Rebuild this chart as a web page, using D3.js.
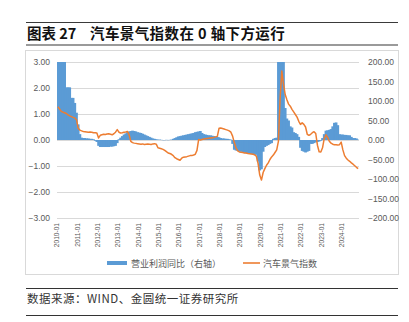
<!DOCTYPE html>
<html>
<head>
<meta charset="utf-8">
<script src="https://cdn.jsdelivr.net/npm/d3@7/dist/d3.min.js"></script>
<style>
  html, body { margin: 0; padding: 0; background: #fff; }
  svg { display: block; }
</style>
</head>
<body>
<svg id="chart" width="409" height="322"></svg>
<script>
// Monthly series, 2010-01 .. 2024-10
const years = d3.range(2010, 2025);
const lastYearMonths = 10;

// Operating profit YoY, % (right axis, bars)
const profitYoY = [
  260, 260, 260, 260, 260, 135, 135, 135, 108, 108, 95, 70,     // 2010
  40, 15, 6, 5, 5, 4, 4, 3, 3, 2, -2, -5,                       // 2011
  -15, -18, -18, -18, -18, -18, -18, -17, -17, -16, -15, -8,    // 2012
  2, 6, 10, 14, 17, 20, 22, 23, 24, 23, 22, 20,                 // 2013
  19, 18, 16, 14, 12, 10, 8, 6, 4, 3, 2, 1,                     // 2014
  1, 0.5, -0.5, -0.5, 0.5, -0.5, 0.5, 1, 3, 5, 7, 9,            // 2015
  10, 11, 12, 13, 14, 15, 16, 17, 18, 20, 21, 22,               // 2016
  23, 18, 15, 14, 13, 12, 12, 11, 10, 9, 8, 7,                  // 2017
  5, 4, 4, 3, 3, 2, 1, -10, -25, -27, -28, -30,                 // 2018
  -30, -32, -33, -34, -35, -35, -36, -36, -37, -38, -55, -78,   // 2019
  -75, -30, -18, -15, -13, -10, -8, 3, 5, 6, 260, 260,          // 2020
  260, 230, 82, 55, 50, 35, 32, 20, 18, 15, 8, -20,             // 2021
  -28, -30, -32, -30, -28, -10, -10, -8, -6, -5, -4, -2,        // 2022
  5, 15, 24, 25, 26, 28, 35, 44, 45, 38, 15, 14,                // 2023
  14, 13, 13, 12, 12, 8, 5, 5, 4, 1                             // 2024
];

// Auto industry climate index (left axis, line)
const autoIndex = [
  1.28, 1.20, 1.10, 1.07, 1.05, 1.02, 0.97, 0.93, 0.90, 0.87, 0.85, 0.78,
  0.45, 0.38, 0.35, 0.33, 0.32, 0.31, 0.30, 0.31, 0.30, 0.28, 0.28, 0.27,
  0.08, 0.18, 0.20, 0.22, 0.21, 0.23, 0.24, 0.22, 0.20, 0.24, 0.30, 0.40,
  0.30, 0.27, 0.28, 0.30, 0.31, 0.33, 0.20, -0.05, -0.10, -0.12, -0.13, -0.14,
  -0.15, -0.16, -0.15, -0.17, -0.16, -0.15, -0.16, -0.17, -0.15, -0.14, -0.16, -0.30,
  -0.32, -0.34, -0.36, -0.40, -0.45, -0.50, -0.52, -0.55, -0.60, -0.68, -0.72, -0.75,
  -0.78, -0.70, -0.66, -0.65, -0.64, -0.62, -0.60, -0.60, -0.58, -0.55, -0.40, 0.02,
  0.00, 0.02, 0.04, 0.05, 0.06, 0.07, 0.08, 0.09, 0.10, 0.12, 0.14, 0.45,
  0.46, 0.44, 0.42, 0.40, 0.38, 0.35, 0.30, 0.15, -0.10, -0.30, -0.42, -0.46,
  -0.47, -0.48, -0.50, -0.50, -0.52, -0.53, -0.54, -0.55, -0.57, -0.62, -0.90, -1.35,
  -1.54, -1.25, -1.10, -0.97, -0.88, -0.75, -0.65, -0.58, -0.48, -0.38, -0.05, 1.60,
  2.65, 2.15, 1.75, 1.55, 1.38, 1.30, 1.18, 1.08, 0.98, 0.88, 0.72, 0.60,
  0.66, 0.60, 0.50, 0.22, 0.18, 0.22, 0.28, 0.32, 0.25, -0.20, -0.45, -0.46,
  -0.30, 0.05, 0.20, 0.10, -0.05, -0.12, -0.16, -0.18, -0.18, -0.19, -0.18, -0.08,
  -0.38, -0.60, -0.70, -0.77, -0.82, -0.88, -0.93, -0.99, -1.05, -1.10
];

const tickLabels = years.map(y => y + "-01");
const leftTicks = [3, 2, 1, 0, -1, -2, -3];
const rightTicks = [200, 150, 100, 50, 0, -50, -100, -150, -200];
const seriesNames = ["营业利润同比（右轴）", "汽车景气指数"];
const titleText = ["图表 27", "汽车景气指数在 0 轴下方运行"];
const sourceText = "数据来源：WIND、金圆统一证券研究所";

// month categories
const months = [];
years.forEach(y => {
  const n = y === 2024 ? lastYearMonths : 12;
  for (let m = 1; m <= n; m++) months.push(y + "-" + String(m).padStart(2, "0"));
});

const svg = d3.select("#chart");
const plot = { left: 57, right: 359, top: 62, bottom: 218 };

const x = d3.scaleBand().domain(months).range([plot.left, plot.right]).padding(0);
const yL = d3.scaleLinear().domain([-3, 3]).range([plot.bottom, plot.top]);
const yR = d3.scaleLinear().domain([-200, 200]).range([plot.bottom, plot.top]);

const axisFont = "'Liberation Sans', Arial, sans-serif";
const cjkFont = "'Noto Sans CJK SC', sans-serif";

// header rules and title
svg.append("line").attr("x1", 26).attr("x2", 398).attr("y1", 22.5).attr("y2", 22.5)
  .attr("stroke", "#3a3a3a").attr("stroke-width", 1);
svg.append("line").attr("x1", 26).attr("x2", 398).attr("y1", 45).attr("y2", 45)
  .attr("stroke", "#9a9a9a").attr("stroke-width", 2);
svg.append("text").attr("x", 27).attr("y", 39)
  .attr("font-family", cjkFont).attr("font-weight", 700).attr("font-size", 14.5)
  .attr("fill", "#111").text(titleText[0]);
svg.append("text").attr("x", 90).attr("y", 39)
  .attr("font-family", cjkFont).attr("font-weight", 700).attr("font-size", 14.5)
  .attr("fill", "#111").attr("letter-spacing", 0.4).text(titleText[1]);

// chart frame
svg.append("rect").attr("x", 25.5).attr("y", 50.5).attr("width", 373).attr("height", 224)
  .attr("fill", "#fff").attr("stroke", "#d9d9d9").attr("stroke-width", 1);

// gridlines
svg.append("g").selectAll("line").data(leftTicks).join("line")
  .attr("x1", plot.left).attr("x2", plot.right)
  .attr("y1", d => Math.round(yL(d)) + 0.5).attr("y2", d => Math.round(yL(d)) + 0.5)
  .attr("stroke", "#d9d9d9").attr("stroke-width", 1);

// left axis
const gL = svg.append("g").attr("transform", `translate(${plot.left - 7},0)`)
  .call(d3.axisLeft(yL).tickValues(leftTicks).tickFormat(d3.format(".2f")).tickSize(0));
gL.select(".domain").remove();
gL.selectAll("text").attr("font-family", axisFont).attr("font-size", 8.5).attr("fill", "#595959")
  .attr("x", 0);

// right axis
const gR = svg.append("g").attr("transform", `translate(${plot.right + 9},0)`)
  .call(d3.axisRight(yR).tickValues(rightTicks).tickFormat(d3.format(".2f")).tickSize(0));
gR.select(".domain").remove();
gR.selectAll("text").attr("font-family", axisFont).attr("font-size", 8.5).attr("fill", "#595959")
  .attr("x", 0);

// clip for bars running past the axis range
svg.append("clipPath").attr("id", "plotClip").append("rect")
  .attr("x", plot.left).attr("y", plot.top).attr("width", plot.right - plot.left)
  .attr("height", plot.bottom - plot.top);

// bars: each month overlaps the next by a pixel so the columns read as one solid block
svg.append("g").attr("clip-path", "url(#plotClip)")
  .selectAll("rect")
  .data(profitYoY).join("rect")
  .attr("x", (d, i) => x(months[i]) - 0.5)
  .attr("width", x.bandwidth() + 1)
  .attr("y", d => Math.min(yR(d), yR(0)))
  .attr("height", d => Math.abs(yR(d) - yR(0)))
  .attr("fill", "#5b9bd5");

// line
const line = d3.line()
  .x((d, i) => x(months[i]) + x.bandwidth() / 2)
  .y(d => yL(d));
svg.append("path").datum(autoIndex)
  .attr("d", line).attr("fill", "none")
  .attr("stroke", "#ed7d31").attr("stroke-width", 1.5).attr("stroke-linejoin", "round");

// x axis labels, one per January, rotated to read bottom-up
const gX = svg.append("g").attr("transform", `translate(-1,${plot.bottom + 5})`)
  .call(d3.axisBottom(x).tickValues(tickLabels).tickSize(0));
gX.select(".domain").remove();
gX.selectAll("text")
  .attr("font-family", axisFont).attr("font-size", 6.6).attr("fill", "#595959")
  .attr("transform", "rotate(-90)")
  .attr("text-anchor", "end")
  .attr("x", 0).attr("y", 0).attr("dy", "0.35em");

// legend
const lg = svg.append("g");
lg.append("rect").attr("x", 107).attr("y", 261).attr("width", 20).attr("height", 4).attr("fill", "#5b9bd5");
lg.append("text").attr("x", 131).attr("y", 266.5).attr("font-family", cjkFont).attr("font-size", 9)
  .attr("fill", "#595959").text(seriesNames[0]);
lg.append("line").attr("x1", 243).attr("x2", 260).attr("y1", 263).attr("y2", 263)
  .attr("stroke", "#ed7d31").attr("stroke-width", 1.6);
lg.append("text").attr("x", 263).attr("y", 266.5).attr("font-family", cjkFont).attr("font-size", 9)
  .attr("fill", "#595959").text(seriesNames[1]);

// source note and rules
svg.append("line").attr("x1", 26).attr("x2", 398).attr("y1", 288.5).attr("y2", 288.5)
  .attr("stroke", "#333").attr("stroke-width", 1);
svg.append("line").attr("x1", 26).attr("x2", 398).attr("y1", 315.5).attr("y2", 315.5)
  .attr("stroke", "#333").attr("stroke-width", 1);
svg.append("text").attr("x", 27).attr("y", 303).attr("font-family", cjkFont).attr("font-size", 11.5)
  .attr("fill", "#333").attr("letter-spacing", 0.5).text(sourceText);
</script>
</body>
</html>
